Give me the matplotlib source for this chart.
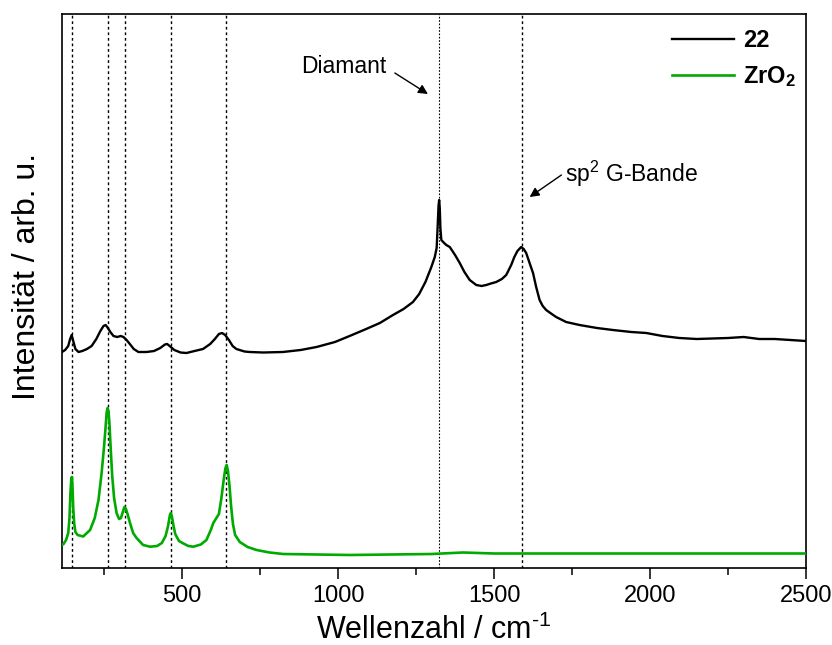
import matplotlib
matplotlib.use("Agg")
import matplotlib.pyplot as plt

plt.rcParams['font.family'] = ['Liberation Sans', 'DejaVu Sans']
plt.rcParams['mathtext.fontset'] = 'custom'
plt.rcParams['mathtext.rm'] = 'Liberation Sans'
plt.rcParams['mathtext.it'] = 'Liberation Sans:italic'
plt.rcParams['mathtext.bf'] = 'Liberation Sans:bold'

# Sample "22" (Raman spectrum), intensity in arbitrary units
wn_22 = [115, 125, 135, 141, 146, 151, 158, 168, 180, 195, 210, 225, 238, 248, 255, 262,
         270, 280, 292, 303, 312, 322, 335, 345, 360, 386, 410, 430, 445, 452, 460, 475,
         495, 514, 540, 567, 590, 605, 618, 628, 638, 650, 662, 674, 700, 717, 760, 823,
         880, 931, 990, 1037, 1090, 1134, 1176, 1210, 1240, 1260, 1280, 1299, 1310, 1316,
         1319, 1322, 1324, 1326, 1328, 1331, 1340, 1347, 1358, 1375, 1390, 1405, 1422,
         1443, 1460, 1475, 1490, 1507, 1525, 1539, 1555, 1565, 1575, 1587, 1595, 1603,
         1615, 1625, 1635, 1646, 1656, 1667, 1685, 1699, 1731, 1774, 1830, 1881, 1940,
         1988, 2040, 2094, 2150, 2200, 2250, 2300, 2350, 2400, 2450, 2500]
int_22 = [216, 218, 222, 229, 233, 227, 219, 216, 217, 219, 222, 229, 237, 242, 243, 240,
          236, 232, 231, 232, 231, 228, 223, 219, 216, 216, 217, 220, 223.5, 224, 222, 218,
          215.5, 215, 217, 219, 224, 229, 234, 235, 233, 228, 222, 219, 216.5, 216, 215.5, 216,
          218, 221, 226, 232, 239, 245, 253, 259, 266, 274, 286, 301, 311, 320,
          340, 362, 368, 360, 340, 328, 325, 323, 321, 313, 305, 296, 288,
          283, 282, 283, 284.5, 286, 289, 293, 303, 311, 317, 321, 319, 315,
          304, 295, 281, 268, 262, 258, 254, 251, 246, 243, 240, 238, 236,
          235, 232, 230, 229, 229.5, 230, 231, 229, 229, 228, 227]

# ZrO2 reference spectrum
wn_zro2 = [115, 120, 128, 135, 139, 142, 145, 147, 149, 151, 154, 158, 165, 183, 205, 220,
           232, 242, 250, 255, 258, 261, 264, 267, 271, 276, 282, 290, 298, 304, 310, 315,
           320, 326, 333, 343, 354, 375, 397, 420, 435, 447, 455, 461, 464, 467, 472, 478,
           490, 503, 520, 536, 560, 578, 592, 600, 610, 618, 626, 634, 639, 643, 647, 652,
           657, 663, 670, 685, 710, 739, 780, 824, 1037, 1300, 1400, 1500, 2000, 2500]
int_zro2 = [23, 24, 28, 35, 50, 75, 90, 91, 78, 60, 45, 36, 33, 31.5, 38, 50,
            68, 95, 122, 142, 155, 160, 157, 145, 120, 92, 70, 55, 49, 50, 56, 61,
            59, 53, 45, 35, 30, 23, 21.3, 22, 25, 32, 42, 53, 55, 52, 43, 34,
            27, 24.7, 22, 21.3, 23.5, 28, 38, 45, 50, 54, 70, 90, 100, 103, 97, 82,
            62, 44, 33, 26, 21, 18, 15.5, 14, 13, 14, 15.5, 14.5, 14.5, 14.5]

# marked band positions
zro2_bands = [146, 262, 316, 464, 641]
diamond_band = 1324
g_band = 1590

fig = plt.figure(figsize=(8.32, 6.45), dpi=100)
ax = fig.add_axes([62/832, 1-568/645, (806-62)/832, (568-14)/645])

for b in zro2_bands:
    ax.axvline(b, color='black', lw=1.0, linestyle=(0, (2, 2)), zorder=1)
ax.axvline(diamond_band, color='black', lw=0.8, linestyle=(0, (1.5, 1.5)), zorder=1)
ax.axvline(g_band, color='black', lw=1.0, linestyle=(0, (2, 2)), zorder=1)

ax.plot(wn_22, int_22, color='black', lw=1.7, label='22', zorder=3)
ax.plot(wn_zro2, int_zro2, color='#00AA00', lw=1.9, label='ZrO$_\\mathbf{2}$', zorder=3)

ax.set_xlim(115, 2500)
ax.set_ylim(0, 554)
ax.set_xticks([500, 1000, 1500, 2000, 2500])
ax.set_xticks([250, 750, 1250, 1750, 2250], minor=True)
ax.set_yticks([])
ax.tick_params(axis='x', which='major', direction='out', length=8, width=1.1,
               labelsize=17, pad=4)
ax.tick_params(axis='x', which='minor', direction='out', length=5, width=1.1)
for s in ax.spines.values():
    s.set_linewidth(1.2)

ax.set_xlabel('Wellenzahl / cm$^{\\text{-1}}$', fontsize=22, labelpad=6)
ax.set_ylabel('Intensität / arb. u.', fontsize=23)
ax.yaxis.set_label_coords(-0.027, 0.527)

ax.annotate('', xy=(1288, 474), xytext=(1182, 495),
            arrowprops=dict(arrowstyle='-|>', color='black', lw=1.0,
                            mutation_scale=14, shrinkA=0, shrinkB=0))
ax.text(883, 495, 'Diamant', fontsize=16.5, ha='left', va='baseline')

ax.annotate('', xy=(1614, 371), xytext=(1716, 393),
            arrowprops=dict(arrowstyle='-|>', color='black', lw=1.0,
                            mutation_scale=14, shrinkA=0, shrinkB=0))
ax.text(1726, 386, 'sp$^2$ G-Bande', fontsize=16.5, ha='left', va='baseline')

leg = ax.legend(loc='upper right', frameon=False,
                prop={'weight': 'bold', 'size': 17}, handlelength=2.6,
                handletextpad=0.4, labelspacing=0.5, borderaxespad=0.0,
                bbox_to_anchor=(0.999, 0.99))

fig.savefig('out.png', dpi=100)
